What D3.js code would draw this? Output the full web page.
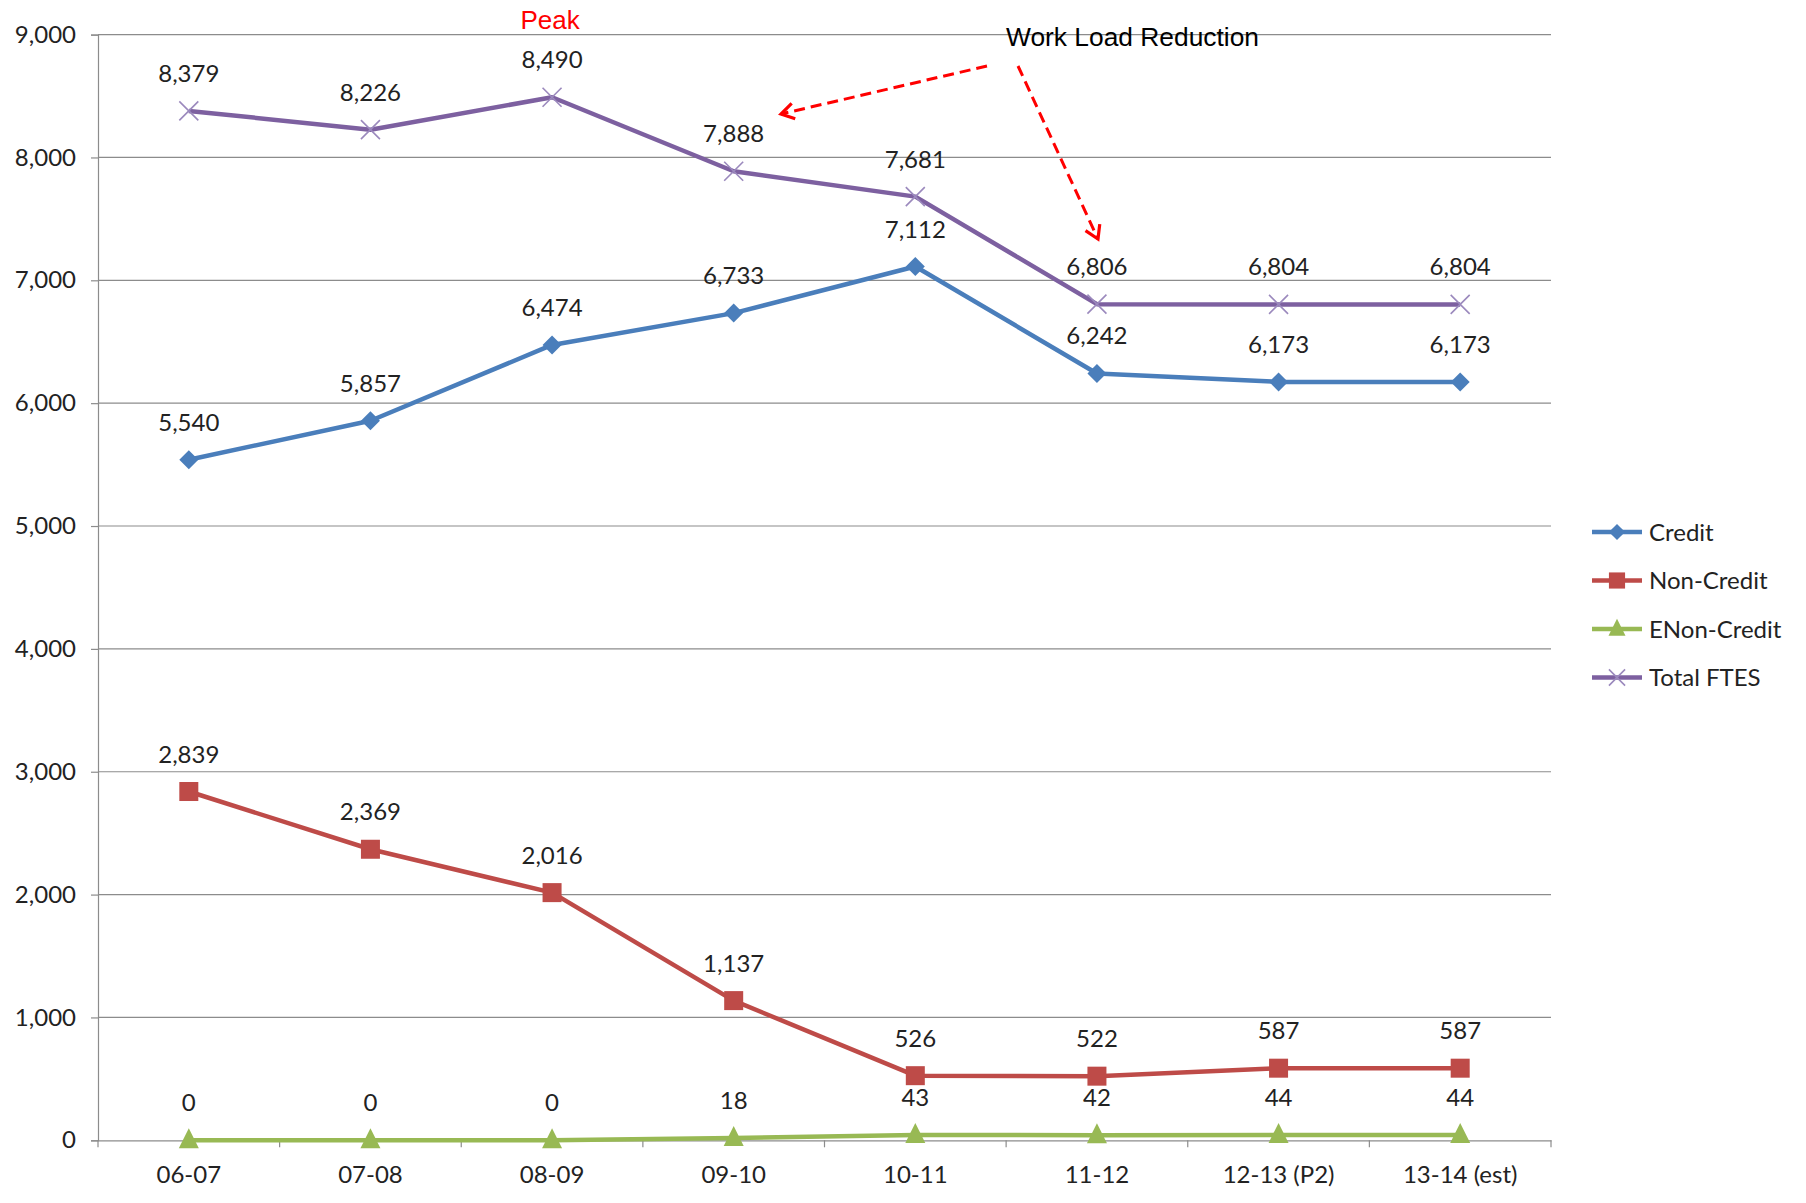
<!DOCTYPE html>
<html>
<head>
<meta charset="utf-8">
<script src="https://cdn.jsdelivr.net/npm/d3@7"></script>
<style>
  html, body { margin: 0; padding: 0; background: #fff; }
  svg { display: block; }
  text { fill: #222; }
</style>
</head>
<body>
<svg id="chart" width="1806" height="1203"></svg>
<script>
// FTES by year, four series
const years = ["06-07", "07-08", "08-09", "09-10", "10-11", "11-12", "12-13 (P2)", "13-14 (est)"];
const credit = [5540, 5857, 6474, 6733, 7112, 6242, 6173, 6173];
const nonCredit = [2839, 2369, 2016, 1137, 526, 522, 587, 587];
const eNonCredit = [0, 0, 0, 18, 43, 42, 44, 44];
const totalFtes = [8379, 8226, 8490, 7888, 7681, 6806, 6804, 6804];
const yTicks = [0, 1000, 2000, 3000, 4000, 5000, 6000, 7000, 8000, 9000];

const series = [
  { name: "Credit", values: credit, color: "#4A7EBB", marker: "diamond" },
  { name: "Non-Credit", values: nonCredit, color: "#BE4B48", marker: "square" },
  { name: "ENon-Credit", values: eNonCredit, color: "#98B954", marker: "triangle" },
  { name: "Total FTES", values: totalFtes, color: "#7D60A0", marker: "cross" }
];

const LABEL_FONT = "Lato, 'Open Sans', sans-serif";
const NOTE_FONT = "'Liberation Sans', Arial, sans-serif";

const svg = d3.select("#chart");
const plot = { left: 98, right: 1551, top: 34.6, bottom: 1140.3 };

const x = d3.scaleBand().domain(years).range([plot.left, plot.right]).padding(0);
const y = d3.scaleLinear().domain([0, 9000]).range([plot.bottom, plot.top]);
const cx = d => x(d) + x.bandwidth() / 2;

// horizontal gridlines
svg.append("g").selectAll("line").data(yTicks.filter(t => t > 0)).join("line")
  .attr("x1", plot.left).attr("x2", plot.right)
  .attr("y1", d => y(d)).attr("y2", d => y(d))
  .attr("stroke", "#8c8c8c").attr("stroke-width", 1.2);

// y axis
const yAxis = svg.append("g").attr("transform", `translate(${plot.left},0)`)
  .call(d3.axisLeft(y).tickValues(yTicks).tickFormat(d3.format(",")).tickSize(7).tickPadding(15));
yAxis.select(".domain").attr("stroke", "#8c8c8c").attr("stroke-width", 1.2);
yAxis.selectAll(".tick line").attr("stroke", "#8c8c8c").attr("stroke-width", 1.2);
yAxis.selectAll(".tick text").attr("font-size", 24).style("font-family", LABEL_FONT).style("fill", "#222");

// x axis with ticks at category boundaries
const xAxis = svg.append("g").attr("transform", `translate(0,${plot.bottom})`)
  .call(d3.axisBottom(x).tickSize(0).tickPadding(26));
xAxis.select(".domain").attr("stroke", "#8c8c8c").attr("stroke-width", 1.2);
xAxis.selectAll(".tick text").attr("font-size", 24).style("font-family", LABEL_FONT).style("fill", "#222");
const bounds = years.map(d => x(d)).concat([plot.right]);
svg.append("g").selectAll("line").data(bounds).join("line")
  .attr("x1", d => d).attr("x2", d => d)
  .attr("y1", plot.bottom).attr("y2", plot.bottom + 7)
  .attr("stroke", "#8c8c8c").attr("stroke-width", 1.2);

// marker drawing
function drawMarker(g, type, color, px, py, scale = 1) {
  if (type === "diamond") {
    const r = 9.5 * scale;
    g.append("path").attr("d", `M${px},${py - r}L${px + r},${py}L${px},${py + r}L${px - r},${py}Z`).attr("fill", color);
  } else if (type === "square") {
    const s = 9.5 * scale;
    g.append("rect").attr("x", px - s).attr("y", py - s).attr("width", 2 * s).attr("height", 2 * s).attr("fill", color);
  } else if (type === "triangle") {
    const s = 10 * scale;
    g.append("path").attr("d", `M${px},${py - s * 1.2}L${px + s},${py + s * 0.8}L${px - s},${py + s * 0.8}Z`).attr("fill", color);
  } else {
    const s = 9.5 * scale;
    g.append("path").attr("d", `M${px - s},${py - s}L${px + s},${py + s}M${px - s},${py + s}L${px + s},${py - s}`)
      .attr("stroke", "#9b89bd").attr("stroke-width", 1.6).attr("fill", "none");
  }
}

const line = d3.line().x((d, i) => cx(years[i])).y(d => y(d));

// draw lowest series first
[...series].reverse().forEach(s => {
  const g = svg.append("g");
  g.append("path").datum(s.values).attr("d", line)
    .attr("fill", "none").attr("stroke", s.color).attr("stroke-width", 4.5).attr("stroke-linejoin", "round");
  s.values.forEach((v, i) => drawMarker(g, s.marker, s.color, cx(years[i]), y(v)));
});

// value labels
series.forEach(s => {
  svg.append("g").selectAll("text").data(s.values).join("text")
    .attr("x", (d, i) => cx(years[i]))
    .attr("y", d => y(d) - 29)
    .attr("text-anchor", "middle")
    .attr("font-size", 24)
    .style("font-family", LABEL_FONT)
    .text(d => d3.format(",")(d));
});

// legend
const legend = svg.append("g");
series.forEach((s, i) => {
  const ly = 532 + i * 48.5;
  legend.append("line").attr("x1", 1592).attr("x2", 1642).attr("y1", ly).attr("y2", ly)
    .attr("stroke", s.color).attr("stroke-width", 4.5);
  drawMarker(legend, s.marker, s.color, 1617, ly, 0.85);
  legend.append("text").attr("x", 1649).attr("y", ly + 8.5).attr("font-size", 24)
    .style("font-family", LABEL_FONT).text(s.name);
});

// annotations
const red = "#ff0000";
svg.append("text").attr("x", cx("08-09") - 2).attr("y", 29).attr("text-anchor", "middle")
  .style("font-family", NOTE_FONT).attr("font-size", 26)
  .style("fill", red).text("Peak");
svg.append("text").attr("x", 1006).attr("y", 46)
  .style("font-family", NOTE_FONT).attr("font-size", 26)
  .attr("textLength", 253).attr("lengthAdjust", "spacingAndGlyphs")
  .style("fill", "#000").text("Work Load Reduction");

function dashedArrow(x1, y1, x2, y2) {
  svg.append("line").attr("x1", x1).attr("y1", y1).attr("x2", x2).attr("y2", y2)
    .attr("stroke", red).attr("stroke-width", 3).attr("stroke-dasharray", "11,6");
  const ang = Math.atan2(y2 - y1, x2 - x1);
  const len = 15, spread = 0.55;
  const p1 = [x2 - len * Math.cos(ang - spread), y2 - len * Math.sin(ang - spread)];
  const p2 = [x2 - len * Math.cos(ang + spread), y2 - len * Math.sin(ang + spread)];
  svg.append("path").attr("d", `M${p1[0]},${p1[1]}L${x2},${y2}L${p2[0]},${p2[1]}`)
    .attr("fill", "none").attr("stroke", red).attr("stroke-width", 3.2);
}
dashedArrow(987, 66, 781, 114);
dashedArrow(1018, 66, 1098, 239);
</script>
</body>
</html>
